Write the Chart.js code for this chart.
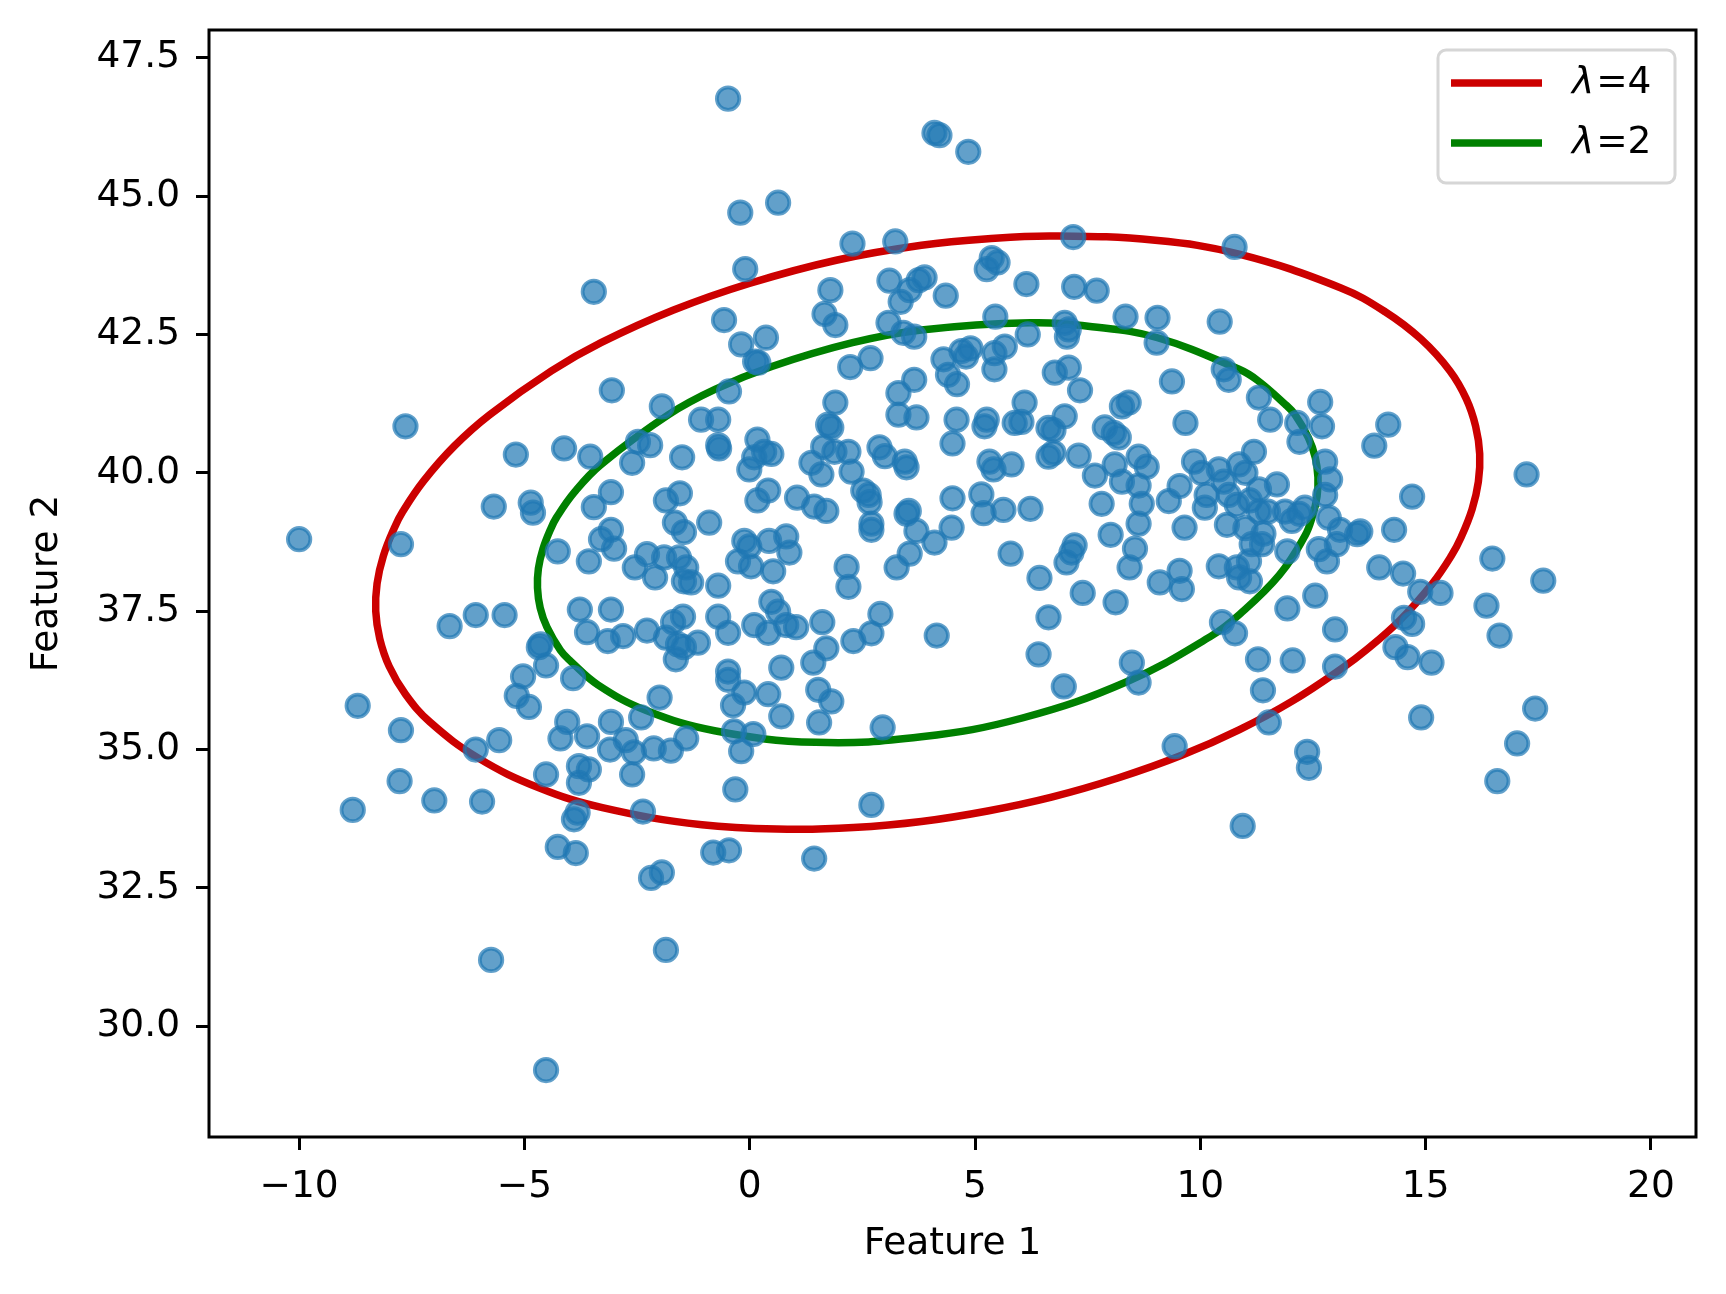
<!DOCTYPE html>
<html>
<head>
<meta charset="utf-8">
<script src="https://cdn.jsdelivr.net/npm/chart.js@4.4.0/dist/chart.umd.min.js"></script>
<style>
  html, body { margin: 0; padding: 0; background: #fff; }
  #wrap { width: 1726px; height: 1294px; position: relative; }
</style>
</head>
<body>
<div id="wrap"><canvas id="chart"></canvas></div>
<script>
// ===== DATA =====
const samples = [
  [-3.46,43.27],[-0.48,46.76],[-0.21,44.7],[0.63,44.88],[-0.1,43.68],[2.28,44.14],[3.23,44.18],[1.79,43.3],
  [1.66,42.87],[1.9,42.67],[3.1,43.47],[3.55,43.3],[3.75,43.48],[3.35,43.09],[3.08,42.71],[3.41,42.53],
  [3.65,42.46],[-0.57,42.76],[-0.19,42.32],[0.36,42.44],[0.12,42.01],[0.19,41.99],[2.23,41.91],[2.68,42.07],
  [-3.06,41.49],[-1.95,41.2],[-0.46,41.47],[1.9,41.27],[3.3,41.44],[3.65,41.68],[4.1,46.14],[4.21,46.1],
  [4.85,45.8],[7.18,44.26],[10.76,44.08],[5.37,43.88],[5.5,43.8],[5.26,43.68],[3.88,43.53],[4.35,43.2],
  [6.14,43.41],[7.2,43.36],[7.7,43.29],[8.34,42.82],[9.05,42.8],[10.43,42.73],[9.03,42.35],[5.45,42.82],
  [6.17,42.5],[6.99,42.71],[7.08,42.59],[7.04,42.46],[4.3,42.05],[4.7,42.2],[4.9,42.25],[4.8,42.1],
  [4.6,41.6],[4.4,41.77],[5.43,42.16],[5.66,42.28],[5.43,41.87],[6.77,41.81],[7.08,41.9],[7.33,41.49],
  [9.37,41.65],[10.52,41.87],[10.63,41.68],[6.1,41.27],[8.41,41.27],[8.26,41.2],[11.3,41.36],[12.66,41.28],
  [-7.64,40.84],[-5.19,40.33],[-4.12,40.44],[-3.54,40.29],[-5.68,39.39],[-4.86,39.46],[-4.81,39.28],[-10.0,38.8],
  [-7.74,38.71],[-4.26,38.58],[-3.57,38.4],[-3.46,39.38],[-6.66,37.23],[-6.08,37.43],[-5.44,37.43],[-3.77,37.53],
  [-3.61,37.12],[-4.68,36.85],[-4.64,36.9],[-4.52,36.52],[-3.92,36.29],[-5.03,36.32],[-5.17,35.97],[-4.9,35.77],
  [-8.7,35.79],[-7.74,35.35],[-6.08,35.0],[-5.56,35.17],[-4.05,35.5],[-4.2,35.2],[-3.61,35.24],
  [-1.08,40.96],[-0.7,40.96],[-2.48,40.56],[-2.21,40.5],[-2.61,40.18],[-1.5,40.28],[-0.7,40.5],[-0.68,40.44],
  [0.17,40.6],[0.32,40.38],[0.48,40.34],[-0.01,40.06],[0.1,40.28],[1.74,40.87],[1.81,40.82],[1.63,40.47],
  [1.88,40.38],[2.19,40.38],[1.37,40.18],[1.59,39.97],[2.26,40.02],[2.88,40.46],[3.0,40.3],[3.44,40.2],
  [3.48,40.1],[3.3,41.05],[3.7,41.0],[-3.08,39.65],[-1.86,39.5],[-1.55,39.63],[-1.66,39.1],[-1.46,38.93],
  [-0.9,39.1],[0.17,39.5],[0.41,39.68],[1.05,39.55],[1.43,39.39],[1.7,39.31],[2.52,39.68],[2.64,39.6],
  [2.66,39.47],[2.7,39.08],[2.7,38.97],[3.48,39.26],[3.53,39.31],[3.7,38.95],[3.55,38.54],[3.26,38.29],
  [-3.08,38.97],[-3.01,38.63],[-3.3,38.8],[-2.55,38.29],[-2.28,38.53],[-2.1,38.11],[-1.9,38.47],[-1.57,38.47],
  [-1.41,38.29],[-1.3,38.02],[-1.46,38.04],[-0.7,37.96],[-0.12,38.77],[-0.01,38.67],[-0.26,38.4],[0.03,38.31],
  [0.43,38.77],[0.52,38.22],[0.81,38.85],[0.88,38.56],[2.15,38.3],[2.19,37.94],[-3.08,37.53],[-3.15,36.96],
  [-2.81,37.05],[-2.28,37.15],[-1.7,37.3],[-1.48,37.4],[-1.86,37.02],[-1.59,36.9],[-1.15,36.93],[-1.64,36.63],
  [-1.46,36.85],[-0.7,37.4],[-0.48,37.11],[0.1,37.25],[0.41,37.11],[0.48,37.67],[0.63,37.49],[0.81,37.25],
  [1.03,37.21],[1.61,37.3],[1.7,36.83],[1.41,36.57],[2.3,36.96],[2.7,37.1],[2.9,37.45],[0.7,36.48],
  [-0.48,36.41],[-0.48,36.26],[-0.12,36.03],[-0.37,35.8],[0.41,36.0],[0.7,35.6],[1.52,36.08],[1.81,35.87],
  [1.54,35.49],[2.95,35.4],[-2.0,35.94],[-2.41,35.58],[-3.08,35.5],[-2.75,35.17],[-2.57,34.95],[-2.13,35.02],
  [-1.75,34.98],[-1.41,35.2],[-0.35,35.33],[0.08,35.28],[-0.19,34.97],[-3.1,35.0],
  [4.59,40.96],[5.21,40.84],[5.26,40.96],[5.88,40.9],[6.03,40.92],[6.74,40.77],[6.63,40.81],[6.99,41.02],
  [7.88,40.82],[8.08,40.72],[8.19,40.64],[9.67,40.9],[4.5,40.53],[5.32,40.2],[5.41,40.06],[5.81,40.15],
  [6.63,40.29],[6.74,40.36],[7.3,40.31],[7.66,39.95],[8.1,40.15],[8.26,39.84],[8.63,40.29],[8.81,40.11],
  [8.63,39.77],[8.7,39.44],[8.63,39.08],[8.55,38.63],[8.43,38.29],[8.01,38.88],[7.81,39.44],[4.5,39.54],
  [5.14,39.61],[5.19,39.27],[5.63,39.33],[6.23,39.35],[4.48,39.01],[4.1,38.74],[5.79,38.54],[6.43,38.1],
  [7.21,38.69],[7.14,38.56],[7.03,38.38],[7.39,37.83],[8.12,37.66],[6.63,37.39],[4.15,37.06],[6.41,36.72],
  [6.97,36.14],[8.48,36.57],[8.63,36.21],[9.43,35.06],[9.1,38.02],[9.54,38.23],[9.59,37.9],[9.65,39.01],
  [9.3,39.49],[9.54,39.76],[9.86,40.2],[10.03,40.0],[10.14,39.6],[10.1,39.37],[10.41,40.06],[10.52,39.84],
  [10.63,39.6],[10.59,39.06],[10.86,40.15],[10.81,39.42],[10.41,38.31],[10.81,38.29],[10.86,38.11],[10.48,37.3],
  [10.77,37.1],
  [11.55,40.96],[12.15,40.9],[12.7,40.84],[14.17,40.87],[13.86,40.49],[12.2,40.56],[11.19,40.38],[17.24,39.97],
  [12.77,40.2],[12.88,39.88],[12.77,39.6],[14.7,39.57],[14.3,38.97],[11.7,39.79],[11.88,39.3],[12.03,39.13],
  [12.2,39.26],[12.32,39.37],[12.85,39.19],[13.1,38.97],[13.55,38.94],[13.48,38.89],[13.03,38.71],[12.63,38.62],
  [12.81,38.4],[11.14,38.71],[11.37,38.71],[11.93,38.58],[11.08,38.4],[11.1,38.04],[13.97,38.29],[14.5,38.18],
  [14.88,37.85],[15.33,37.83],[16.48,38.45],[17.61,38.05],[12.55,37.78],[11.93,37.55],[14.52,37.38],[14.7,37.27],
  [16.35,37.6],[16.64,37.06],[12.99,37.17],[14.33,36.85],[14.6,36.67],[15.13,36.57],[11.28,36.63],[12.05,36.61],
  [12.99,36.5],[11.39,36.07],[11.52,35.49],[14.9,35.58],[17.43,35.74],[17.03,35.11],[12.37,34.96],
  [11.0,40.0],[11.3,39.7],[11.1,39.5],[11.3,39.3],[11.5,39.3],[11.0,39.0],[11.4,38.9],
  [-4.52,34.55],[-3.79,34.7],[-3.57,34.64],[-3.79,34.4],[-3.82,33.86],[-3.9,33.74],[-4.26,33.24],[-3.86,33.13],
  [-7.77,34.43],[-8.81,33.91],[-7.0,34.08],[-5.94,34.06],[-5.74,31.2],[-4.52,29.21],
  [-2.61,34.55],[-2.37,33.88],[-0.32,34.28],[2.7,34.0],[-0.81,33.14],[-0.46,33.18],[-2.19,32.68],[-1.95,32.78],
  [1.43,33.03],[-1.86,31.38],[12.41,34.67],[16.59,34.43],[10.94,33.62]
];

// outline points of the two ellipses, traced around the picture (closed loops)
const ellipseL4 = [
  [-8.30,37.50],[-8.27,38.00],[-8.13,38.50],[-7.89,39.00],[-7.70,39.30],[-7.24,39.85],[-6.56,40.48],[-5.77,41.05],
  [-4.40,41.84],[-3.30,42.35],[-1.69,42.94],[-0.01,43.42],[1.92,43.84],[3.81,44.11],[5.29,44.23],[6.74,44.28],
  [9.00,44.20],[10.86,43.95],[13.12,43.34],[14.10,42.91],[14.89,42.42],[15.54,41.84],[15.90,41.34],[16.11,40.84],
  [16.20,40.34],[16.17,39.84],[16.03,39.34],[15.79,38.84],[15.57,38.50],[15.14,37.99],[14.42,37.33],[13.67,36.79],
  [13.15,36.47],[12.03,35.87],[10.87,35.36],[9.60,34.90],[8.19,34.49],[6.70,34.14],[5.28,33.89],[3.81,33.70],
  [2.30,33.59],[0.89,33.56],[-1.06,33.64],[-3.27,33.95],[-4.68,34.31],[-6.03,34.85],[-7.10,35.50],[-7.64,36.00],
  [-8.00,36.50],[-8.21,37.00]
];
const ellipseL2 = [
  [-4.71,37.92],[-4.69,38.27],[-4.59,38.62],[-4.42,38.98],[-4.29,39.19],[-3.89,39.65],[-3.30,40.15],[-1.80,41.05],
  [-0.76,41.51],[0.49,41.92],[2.28,42.35],[3.81,42.58],[6.22,42.71],[7.60,42.64],[9.05,42.44],[10.86,41.87],
  [11.27,41.67],[11.88,41.24],[12.10,41.05],[12.40,40.63],[12.55,40.28],[12.61,39.92],[12.59,39.57],[12.49,39.22],
  [12.32,38.86],[11.75,38.15],[10.88,37.45],[10.22,37.04],[8.38,36.23],[6.05,35.57],[3.81,35.23],[1.46,35.13],
  [-0.78,35.34],[-2.31,35.71],[-3.37,36.17],[-3.98,36.60],[-4.20,36.79],[-4.50,37.21],[-4.65,37.56]
];

const seriesNames = ['λ=4', 'λ=2'];
const xTicks = [-10, -5, 0, 5, 10, 15, 20];
const yTicks = [30.0, 32.5, 35.0, 37.5, 40.0, 42.5, 45.0, 47.5];
const xLabel = 'Feature 1';
const yLabel = 'Feature 2';

// ===== STYLE =====
const FONT = '"DejaVu Sans", "Liberation Sans", sans-serif';
const FS = 37.5;
Chart.defaults.font.family = FONT;
Chart.defaults.font.size = FS;
Chart.defaults.color = '#000';

const toXY = arr => arr.map(([x, y]) => ({ x, y }));
const minus = v => (v < 0 ? '\u2212' + Math.abs(v) : String(v));

// wrap the loop one point on each side so the spline has neighbours at the seam,
// then hide the two helper segments
function closedLoop(pts) {
    const n = pts.length;
    return toXY([pts[n - 1], ...pts, pts[0], pts[1]]);
}
const hideEnds = (ctx, count) =>
    (ctx.p0DataIndex === 0 || ctx.p1DataIndex === count - 1) ? 'rgba(0,0,0,0)' : undefined;

const redLoop = closedLoop(ellipseL4);
const greenLoop = closedLoop(ellipseL2);

// box around the axes (matplotlib spines)
const frame = {
    id: 'frame',
    afterDatasetsDraw(chart) {
        const { ctx, chartArea: a } = chart;
        ctx.save();
        ctx.strokeStyle = '#000';
        ctx.lineWidth = 3;
        ctx.strokeRect(a.left, a.top, a.right - a.left, a.bottom - a.top);
        ctx.restore();
    }
};

// legend box in the upper right corner
const legendBox = {
    id: 'legendBox',
    afterDraw(chart) {
        const { ctx, chartArea: a } = chart;
        const items = chart.data.datasets.filter(d => d.showLine);
        const w = 237, h = 133;
        const bx = a.right - 21 - w, by = a.top + 20;
        ctx.save();
        ctx.beginPath();
        ctx.roundRect(bx, by, w, h, 8);
        ctx.fillStyle = 'rgba(255,255,255,0.8)';
        ctx.fill();
        ctx.strokeStyle = '#d6d6d6';
        ctx.lineWidth = 3;
        ctx.stroke();

        items.forEach((d, i) => {
            const y = by + 33 + i * 60;
            ctx.beginPath();
            ctx.moveTo(bx + 13, y);
            ctx.lineTo(bx + 104, y);
            ctx.strokeStyle = d.borderColor;
            ctx.lineWidth = 7.5;
            ctx.stroke();

            ctx.fillStyle = '#000';
            ctx.textBaseline = 'middle';
            ctx.textAlign = 'left';
            let x = bx + 134;
            ctx.font = `italic ${FS}px ${FONT}`;
            const sym = d.label.charAt(0);
            ctx.fillText(sym, x, y);
            x += ctx.measureText(sym).width + 2;
            ctx.font = `${FS}px ${FONT}`;
            ctx.fillText(d.label.slice(1), x, y);
        });
        ctx.restore();
    }
};

new Chart(document.getElementById('chart'), {
    type: 'scatter',
    data: {
        datasets: [
            {
                label: 'samples',
                data: toXY(samples),
                backgroundColor: 'rgba(31,119,180,0.7)',
                borderColor: 'rgba(31,119,180,0.7)',
                borderWidth: 3.75,
                pointRadius: 11.25,
                pointHoverRadius: 11.25
            },
            {
                label: seriesNames[0],
                data: redLoop,
                showLine: true,
                borderColor: '#cc0000',
                borderWidth: 7.5,
                borderCapStyle: 'round',
                borderJoinStyle: 'round',
                pointRadius: 0,
                tension: 0.4,
                fill: false,
                segment: { borderColor: ctx => hideEnds(ctx, redLoop.length) }
            },
            {
                label: seriesNames[1],
                data: greenLoop,
                showLine: true,
                borderColor: '#008000',
                borderWidth: 7.5,
                borderCapStyle: 'round',
                borderJoinStyle: 'round',
                pointRadius: 0,
                tension: 0.4,
                fill: false,
                segment: { borderColor: ctx => hideEnds(ctx, greenLoop.length) }
            }
        ]
    },
    options: {
        responsive: true,
        maintainAspectRatio: false,
        animation: false,
        events: [],
        layout: { padding: { top: 30, right: 30, left: 0, bottom: 0 } },
        plugins: {
            legend: { display: false },
            tooltip: { enabled: false }
        },
        scales: {
            x: {
                type: 'linear',
                min: -12,
                max: 21,
                afterBuildTicks: s => { s.ticks = xTicks.map(v => ({ value: v })); },
                afterFit: s => { s.height = 157; s.paddingLeft = 0; s.paddingRight = 0; },
                grid: { drawOnChartArea: false, drawTicks: true, tickLength: 13, tickWidth: 3, tickColor: '#000' },
                border: { display: false },
                ticks: { padding: 15, maxRotation: 0, callback: v => minus(v) },
                title: { display: true, text: xLabel, padding: { top: 0, bottom: 27 } }
            },
            y: {
                type: 'linear',
                min: 28,
                max: 48,
                afterBuildTicks: s => { s.ticks = yTicks.map(v => ({ value: v })); },
                afterFit: s => { s.width = 209; s.paddingTop = 0; s.paddingBottom = 0; },
                grid: { drawOnChartArea: false, drawTicks: true, tickLength: 13, tickWidth: 3, tickColor: '#000' },
                border: { display: false },
                ticks: { padding: 16, callback: v => v.toFixed(1) },
                title: { display: true, text: yLabel, padding: { top: 25, bottom: 0 } }
            }
        }
    },
    plugins: [frame, legendBox]
});
</script>
</body>
</html>
